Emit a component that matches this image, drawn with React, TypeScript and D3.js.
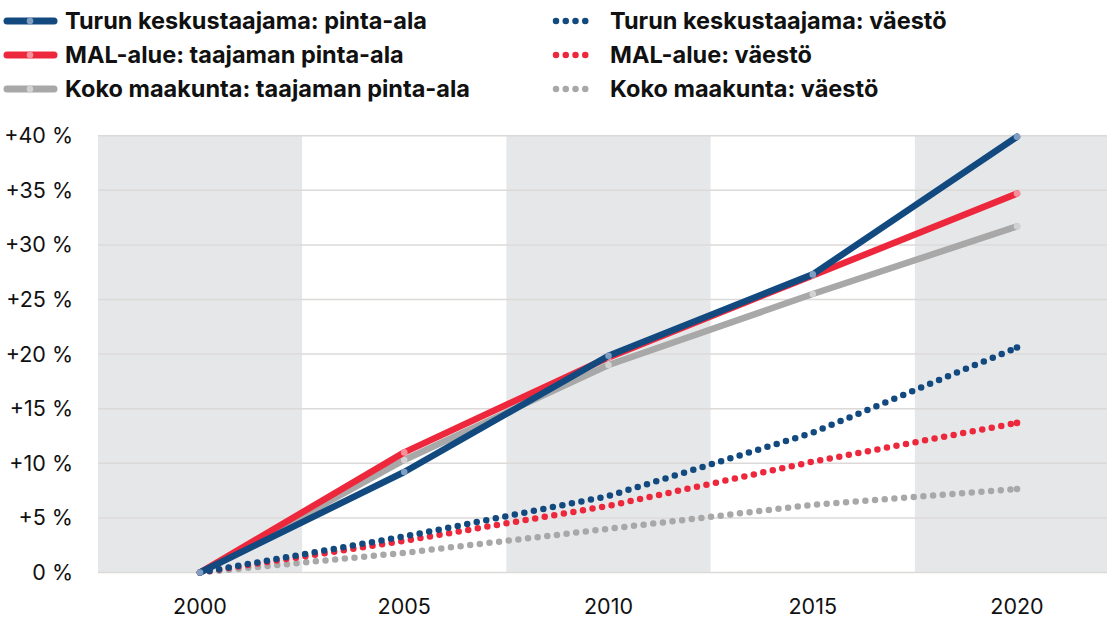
import React from "react";
import * as d3 from "d3";

const years = [2000, 2005, 2010, 2015, 2020];
const turkuArea = [0, 9.2, 19.85, 27.3, 39.9];
const malArea = [0, 11.0, 19.7, 27.2, 34.7];
const regionArea = [0, 10.3, 19.0, 25.5, 31.7];
const turkuPop = [0, 3.3, 7.0, 12.8, 20.6];
const malPop = [0, 2.9, 6.1, 10.15, 13.7];
const regionPop = [0, 1.8, 4.0, 6.2, 7.65];
const yTicks = [0, 5, 10, 15, 20, 25, 30, 35, 40];
const bandYears = [2000, 2010, 2020];

const BLUE = "#124a80";
const RED = "#ee283c";
const GRAY = "#a8a8a8";
const FONT = "Inter, 'Noto Sans', sans-serif";

const areaSeries = [
  { name: "Koko maakunta: taajaman pinta-ala", values: regionArea, color: GRAY, marker: "#d2d2d2" },
  { name: "MAL-alue: taajaman pinta-ala", values: malArea, color: RED, marker: "#f58f99" },
  { name: "Turun keskustaajama: pinta-ala", values: turkuArea, color: BLUE, marker: "#7f9ec2" },
];
const popSeries = [
  { name: "Koko maakunta: väestö", values: regionPop, color: GRAY },
  { name: "MAL-alue: väestö", values: malPop, color: RED },
  { name: "Turun keskustaajama: väestö", values: turkuPop, color: BLUE },
];

export default function App() {
  const W = 1107, H = 619;
  const left = 98, right = 1107;
  const x = d3.scaleLinear().domain([2000, 2020]).range([200, 1017]);
  const y = d3.scaleLinear().domain([0, 40]).range([572.5, 135.7]);
  const line = d3.line<number>().x((_, i) => x(years[i])).y((d) => y(d));

  const legendLeft = [...areaSeries].reverse();
  const legendRight = [...popSeries].reverse();
  const rowY = [21, 55, 89];

  return (
    <svg width={W} height={H} style={{ position: "absolute", left: 0, top: 0, fontFamily: FONT }}>
      <rect x={0} y={0} width={W} height={H} fill="#fff" />
      {bandYears.map((yr) => {
        const x0 = Math.max(left, x(yr - 2.5));
        const x1 = Math.min(right, x(yr + 2.5));
        return <rect key={yr} x={x0} y={y(40)} width={x1 - x0} height={y(0) - y(40)} fill="#e6e7e9" />;
      })}
      {yTicks.map((t) => (
        <g key={t}>
          <line x1={left} x2={right} y1={y(t)} y2={y(t)} stroke="#dcdad8" strokeWidth={1.5} />
          <text x={73} y={y(t)} dy="0.35em" textAnchor="end" fontSize={21.5} fill="#111">
            {t === 0 ? "0 %" : `+${t} %`}
          </text>
        </g>
      ))}
      {years.map((yr) => (
        <text key={yr} x={x(yr)} y={606} dy="0.35em" textAnchor="middle" fontSize={21.5} fill="#111">
          {yr}
        </text>
      ))}
      {popSeries.map((s) => (
        <path key={s.name} d={line(s.values) || ""} fill="none" stroke={s.color} strokeWidth={6.5}
          strokeLinecap="round" strokeDasharray="0 9.7" />
      ))}
      {popSeries.map((s) => (
        <circle key={s.name + "end"} cx={x(2020)} cy={y(s.values[4])} r={3.3} fill={s.color} />
      ))}
      {areaSeries.map((s) => (
        <g key={s.name}>
          <path d={line(s.values) || ""} fill="none" stroke={s.color} strokeWidth={6.5} strokeLinecap="round" strokeLinejoin="round" />
          {s.values.map((v, i) => (
            <circle key={i} cx={x(years[i])} cy={y(v)} r={3.3} fill={s.marker} />
          ))}
        </g>
      ))}
      {legendLeft.map((s, i) => (
        <g key={s.name}>
          <line x1={7} x2={54} y1={rowY[i]} y2={rowY[i]} stroke={s.color} strokeWidth={7} strokeLinecap="round" />
          <circle cx={30} cy={rowY[i]} r={3.3} fill={s.marker} />
          <text x={65} y={rowY[i]} dy="0.36em" fontSize={23.5} fontWeight={700} fill="#111">{s.name}</text>
        </g>
      ))}
      {legendRight.map((s, i) => (
        <g key={s.name}>
          <line x1={556} x2={595} y1={rowY[i]} y2={rowY[i]} stroke={s.color} strokeWidth={6.5}
            strokeLinecap="round" strokeDasharray="0 9.75" />
          <text x={610} y={rowY[i]} dy="0.36em" fontSize={23.5} fontWeight={700} fill="#111">{s.name}</text>
        </g>
      ))}
    </svg>
  );
}
